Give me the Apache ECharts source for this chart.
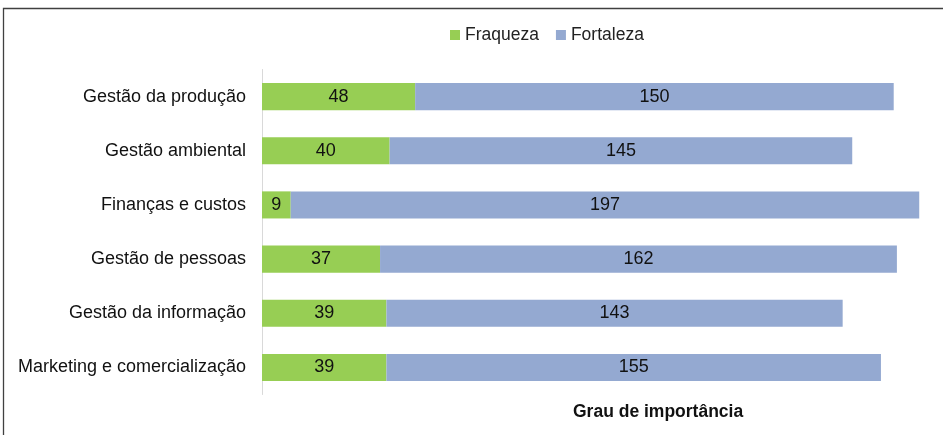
<!DOCTYPE html>
<html><head><meta charset="utf-8">
<script src="https://cdn.jsdelivr.net/npm/echarts@6/dist/echarts.min.js"></script>
<style>html,body{margin:0;padding:0;background:#fff}#c{width:943px;height:435px}</style>
</head><body><div id="c"></div>
<script>
const categories = ["Gestão da produção","Gestão ambiental","Finanças e custos","Gestão de pessoas","Gestão da informação","Marketing e comercialização"];
const fraqueza = [48,40,9,37,39,39];
const fortaleza = [150,145,197,162,143,155];
const seriesNames = ["Fraqueza","Fortaleza"];
const axisTitle = "Grau de importância";

const chart = echarts.init(document.getElementById('c'), null, {renderer:'canvas'});
const font = "'Liberation Sans', Arial, sans-serif";
chart.setOption({
  animation:false,
  textStyle:{fontFamily:font},
  graphic:[{type:'rect',shape:{x:3.5,y:8.5,width:1000,height:1000},style:{fill:null,stroke:'#404040',lineWidth:1.3},silent:true}],
  legend:{
    data:seriesNames, top:21, left:445, itemWidth:10, itemHeight:10, itemGap:17,
    icon:'rect', textStyle:{fontSize:17.5,color:'#222',fontFamily:font}
  },
  title:{text:axisTitle,left:568,top:398,textStyle:{fontSize:17.5,fontWeight:'bold',color:'#111',fontFamily:font}},
  grid:{left:262,right:11,top:69.5,bottom:40.5,containLabel:false},
  xAxis:{type:'value',min:0,max:210,show:true,axisLine:{show:false},axisTick:{show:false},axisLabel:{show:false},splitLine:{show:false}},
  yAxis:{type:'category',data:categories,inverse:true,
    axisLine:{show:true,lineStyle:{color:'#d9d9d9',width:1}},axisTick:{show:false},
    axisLabel:{fontSize:18,color:'#111',margin:16,fontFamily:font}},
  series:[
    {name:seriesNames[0],type:'bar',stack:'a',data:fraqueza,barWidth:'50%',itemStyle:{color:'#97CE54'},
     label:{show:true,position:'inside',fontSize:18,color:'#111',fontFamily:font}},
    {name:seriesNames[1],type:'bar',stack:'a',data:fortaleza,barWidth:'50%',itemStyle:{color:'#94A9D1'},
     label:{show:true,position:'inside',fontSize:18,color:'#111',fontFamily:font}}
  ]
});
</script></body></html>
